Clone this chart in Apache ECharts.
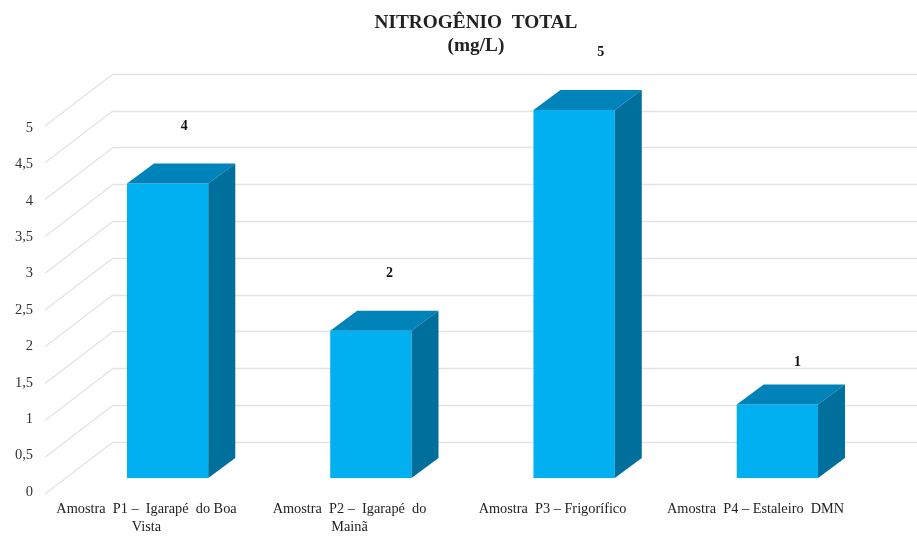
<!DOCTYPE html>
<html>
<head>
<meta charset="utf-8">
<style>html,body{margin:0;padding:0;background:#fff}#c{width:917px;height:536px}</style>
<script src="https://cdn.jsdelivr.net/npm/echarts@6/dist/echarts.min.js"></script>
</head>
<body>
<div id="c"></div>
<script>
const categories = [
  "Amostra  P1 –  Igarapé  do Boa\nVista",
  "Amostra  P2 –  Igarapé  do\nMainã",
  "Amostra  P3 – Frigorífico",
  "Amostra  P4 – Estaleiro  DMN"
];
const values = [4, 2, 5, 1];
const yTicks = [0, 0.5, 1, 1.5, 2, 2.5, 3, 3.5, 4, 4.5, 5];

const SERIF = '"Liberation Serif","Times New Roman",serif';
const labelNudge = [[16.5, -57.5], [18.5, -57], [26.5, -58], [20, -42]];
const depth = { x: 27, y: -20 };
const wall = { x: -68, y: 52 };

const chart = echarts.init(document.getElementById('c'), null, { renderer: 'canvas' });
const hiddenAxis = { show: false };

function renderWallLine(params, api) {
  const p = api.coord([0, api.value(1)]);
  const x0 = params.coordSys.x;
  const s = { stroke: '#e3e3e3', lineWidth: 1.3, fill: null };
  return { type: 'polyline', shape: { points: [[x0, p[1]], [x0 + wall.x, p[1] + wall.y]] }, style: s, silent: true };
}

function renderBar(params, api) {
  const top = api.coord([api.value(0), api.value(1)]);
  const base = api.coord([api.value(0), 0]);
  const w = api.size([1, 0])[0] * 0.4;
  const l = top[0] - w / 2, r = top[0] + w / 2, t = top[1], b = base[1];
  const dx = depth.x, dy = depth.y;
  const n = labelNudge[params.dataIndex];
  return {
    type: 'group',
    children: [
      { type: 'rect', shape: { x: l, y: t, width: r - l, height: b - t }, style: { fill: '#00b0f0' } },
      { type: 'polygon', shape: { points: [[l, t], [l + dx, t + dy], [r + dx, t + dy], [r, t]] }, style: { fill: '#0083b8' } },
      { type: 'polygon', shape: { points: [[r, t], [r + dx, t + dy], [r + dx, b + dy], [r, b]] }, style: { fill: '#006f9c' } },
      { type: 'text', style: { x: top[0] + n[0], y: t + n[1], text: String(api.value(1)), fill: '#111',
        font: 'bold 14px ' + SERIF, textAlign: 'center', textVerticalAlign: 'middle' } }
    ]
  };
}

chart.setOption({
  animation: false,
  backgroundColor: '#fff',
  title: {
    text: 'NITROGÊNIO  TOTAL\n(mg/L)',
    left: 471, top: 7, textAlign: 'center',
    textStyle: { fontFamily: SERIF, fontWeight: 'bold', fontSize: 19.3, color: '#222', lineHeight: 23 }
  },
  grid: [
    { left: 113, right: 0, top: 74, bottom: 94 },
    { left: 45, right: 60, top: 128, bottom: 40 },
    { left: 66, right: 38, top: 110, bottom: 58 }
  ],
  xAxis: [
    { gridIndex: 0, type: 'category', data: categories, ...hiddenAxis },
    { gridIndex: 1, type: 'category', data: categories, axisLine: { show: false }, axisTick: { show: false },
      axisLabel: { interval: 0, margin: 8, color: '#222', fontFamily: SERIF, fontSize: 14.3, lineHeight: 18 } },
    { gridIndex: 2, type: 'category', data: categories, ...hiddenAxis }
  ],
  yAxis: [
    { gridIndex: 0, type: 'value', min: 0, max: 5, interval: 0.5, axisLine: { show: false }, axisTick: { show: false },
      axisLabel: { show: false }, splitLine: { show: true, lineStyle: { color: '#e3e3e3', width: 1.3 } } },
    { gridIndex: 1, type: 'value', min: 0, max: 5, interval: 0.5, axisLine: { show: false }, axisTick: { show: false },
      splitLine: { show: false },
      axisLabel: { margin: 12, color: '#333', fontFamily: SERIF, fontSize: 14.5,
        verticalAlign: 'middle', verticalAlignMinLabel: 'middle', verticalAlignMaxLabel: 'middle',
        formatter: v => String(v).replace('.', ',') } },
    { gridIndex: 2, type: 'value', min: 0, max: 5, interval: 0.5, ...hiddenAxis }
  ],
  series: [
    { type: 'custom', xAxisIndex: 0, yAxisIndex: 0, renderItem: renderWallLine, clip: false,
      data: yTicks.map(v => [0, v]), z: 1, silent: true },
    { type: 'custom', xAxisIndex: 2, yAxisIndex: 2, renderItem: renderBar, clip: false,
      data: values.map((v, i) => [i, v]), z: 5, silent: true }
  ]
});
</script>
</body>
</html>
